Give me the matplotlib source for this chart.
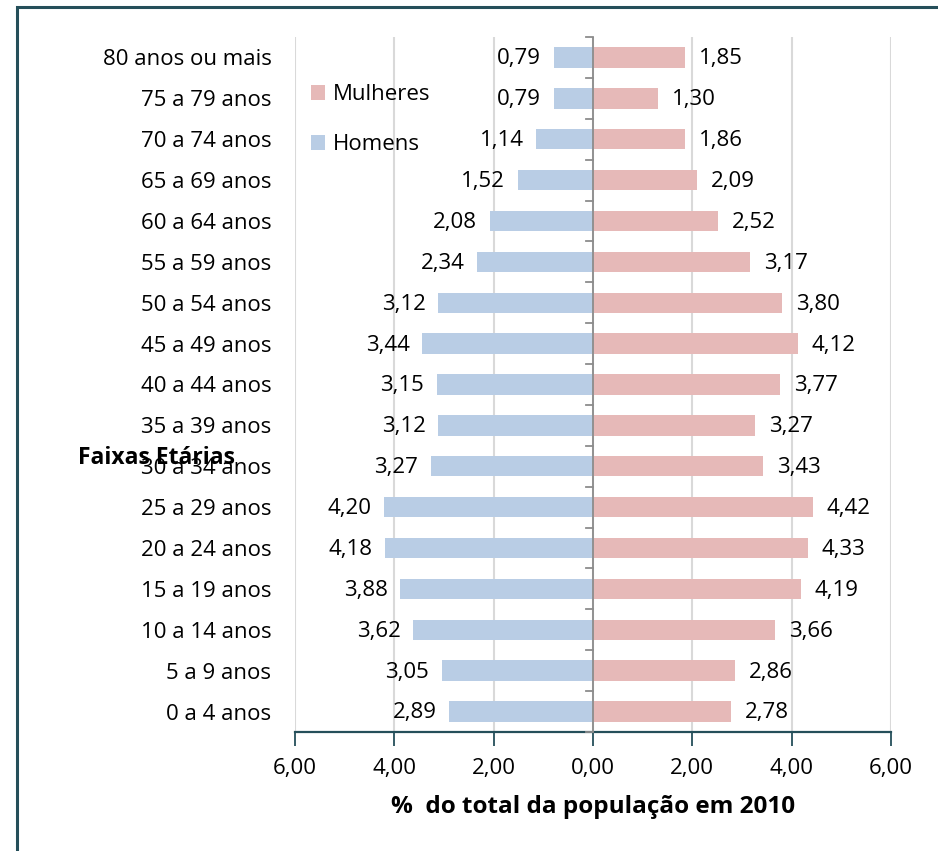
import matplotlib
matplotlib.use("Agg")
import matplotlib.pyplot as plt
from matplotlib.patches import Rectangle
from matplotlib.ticker import FixedLocator, FuncFormatter

# faixas etarias, de baixo para cima
faixas = ["0 a 4 anos", "5 a 9 anos", "10 a 14 anos", "15 a 19 anos",
          "20 a 24 anos", "25 a 29 anos", "30 a 34 anos", "35 a 39 anos",
          "40 a 44 anos", "45 a 49 anos", "50 a 54 anos", "55 a 59 anos",
          "60 a 64 anos", "65 a 69 anos", "70 a 74 anos", "75 a 79 anos",
          "80 anos ou mais"]
homens = [2.89, 3.05, 3.62, 3.88, 4.18, 4.20, 3.27, 3.12, 3.15, 3.44,
          3.12, 2.34, 2.08, 1.52, 1.14, 0.79, 0.79]
mulheres = [2.78, 2.86, 3.66, 4.19, 4.33, 4.42, 3.43, 3.27, 3.77, 4.12,
            3.80, 3.17, 2.52, 2.09, 1.86, 1.30, 1.85]
x_ticks = [-6, -4, -2, 0, 2, 4, 6]

plt.rcParams['font.family'] = ['Open Sans', 'DejaVu Sans']

AZUL = '#b9cde5'
ROSA = '#e6b9b8'
MOLDURA = '#254f5a'
FS = 16

fig = plt.figure(figsize=(9.38, 8.51), dpi=100)
ax = fig.add_axes([295 / 938, 1 - 732 / 851, 596 / 938, 695 / 851])

# moldura do grafico (cortada a direita e embaixo)
fig.patches.append(Rectangle((17 / 938, -0.05), 1.1, 1 - 7 / 851 + 0.05,
                             transform=fig.transFigure, fill=False,
                             edgecolor=MOLDURA, linewidth=2.2, zorder=0))

pos = list(range(len(faixas)))
neg_h = [-v for v in homens]
ax.barh(pos, mulheres, height=0.5, color=ROSA, label='Mulheres', zorder=3)
ax.barh(pos, neg_h, height=0.5, color=AZUL, label='Homens', zorder=3)

for p, v in zip(pos, homens):
    ax.annotate(f"{v:.2f}".replace('.', ','), (-v, p), xytext=(-9, -1),
                textcoords='offset points', ha='right', va='center',
                fontsize=FS, color='black')
for p, v in zip(pos, mulheres):
    ax.annotate(f"{v:.2f}".replace('.', ','), (v, p), xytext=(10, -1),
                textcoords='offset points', ha='left', va='center',
                fontsize=FS, color='black')

ax.set_xlim(-6, 6)
ax.set_ylim(-0.5, len(faixas) - 0.5)
ax.xaxis.set_major_locator(FixedLocator(x_ticks))
ax.xaxis.set_major_formatter(FuncFormatter(
    lambda v, _: f"{abs(v):.2f}".replace('.', ',')))
ax.grid(axis='x', color='#d9d9d9', linewidth=1.5, zorder=0)
ax.set_axisbelow(True)

# eixo central com marcas entre as faixas
ax.axvline(0, color='#8c8c8c', linewidth=1.3, zorder=4)
for b in [p - 0.5 for p in pos] + [pos[-1] + 0.5]:
    ax.plot([-0.14, 0], [b, b], color='#8c8c8c', linewidth=1.3, zorder=4,
            clip_on=False)

ax.set_yticks(pos)
ax.set_yticklabels(faixas, fontsize=FS)
ax.tick_params(axis='y', length=0, pad=17)
ax.tick_params(axis='x', direction='out', length=10, width=1.3,
               color=MOLDURA, labelsize=FS, pad=9)
for s in ['top', 'right', 'left']:
    ax.spines[s].set_visible(False)
ax.spines['bottom'].set_color(MOLDURA)
ax.spines['bottom'].set_linewidth(1.6)

ax.set_xlabel("%  do total da população em 2010", fontsize=17.5,
              fontweight='bold', labelpad=11)

fig.text(78 / 938, 1 - 458 / 851, "Faixas Etárias", fontsize=16.5,
         fontweight='bold', ha='left', va='center')

h, l = ax.get_legend_handles_labels()
ax.legend(h, l, loc='upper left', bbox_to_anchor=(0.012, 0.945),
          frameon=False, fontsize=FS, handlelength=0.65, handleheight=0.65,
          handletextpad=0.35, labelspacing=1.32, borderaxespad=0)

fig.savefig("out.png", dpi=100)
